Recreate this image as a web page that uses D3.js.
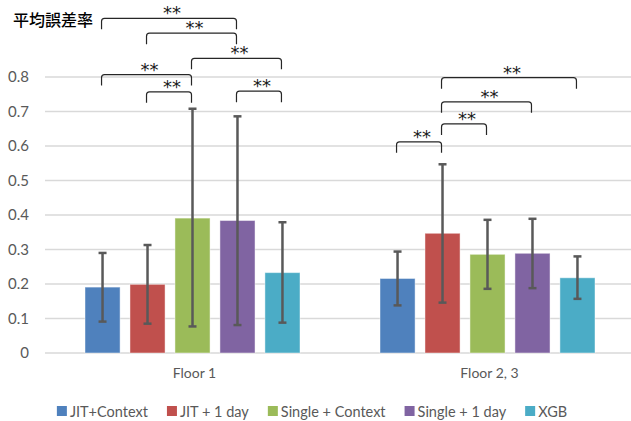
<!DOCTYPE html>
<html>
<head>
<meta charset="utf-8">
<script src="https://cdn.jsdelivr.net/npm/d3@7"></script>
<style>
  html, body { margin: 0; padding: 0; background: #fff; }
  text { font-family: Lato, "Liberation Sans", sans-serif; }
</style>
</head>
<body>
<div class="visualization"></div>
<script>
'use strict';

var categories  = ['Floor 1', 'Floor 2, 3'];
var seriesNames = ['JIT+Context', 'JIT + 1 day', 'Single + Context', 'Single + 1 day', 'XGB'];
var colors      = ['#4F81BD', '#C0504D', '#9BBB59', '#8064A2', '#4BACC6'];

// mean error per category, one entry per series
var meanValues = [
  [0.191, 0.199, 0.391, 0.384, 0.233],
  [0.216, 0.347, 0.286, 0.289, 0.218]
];
var errLow = [
  [0.091, 0.085, 0.077, 0.081, 0.088],
  [0.138, 0.146, 0.186, 0.188, 0.157]
];
var errHigh = [
  [0.290, 0.313, 0.708, 0.686, 0.379],
  [0.294, 0.547, 0.386, 0.389, 0.280]
];
var yTicks = [0, 0.1, 0.2, 0.3, 0.4, 0.5, 0.6, 0.7, 0.8];

// significance brackets: category, series from, series to, height (value units)
var brackets = [
  { cat: 0, from: 0, to: 3, level: 0.970, label: '**' },
  { cat: 0, from: 1, to: 3, level: 0.927, label: '**' },
  { cat: 0, from: 2, to: 4, level: 0.854, label: '**' },
  { cat: 0, from: 0, to: 2, level: 0.807, label: '**' },
  { cat: 0, from: 1, to: 2, level: 0.757, label: '**' },
  { cat: 0, from: 3, to: 4, level: 0.759, label: '**' },
  { cat: 1, from: 1, to: 4, level: 0.798, label: '**' },
  { cat: 1, from: 1, to: 3, level: 0.728, label: '**' },
  { cat: 1, from: 1, to: 2, level: 0.664, label: '**' },
  { cat: 1, from: 0, to: 1, level: 0.612, label: '**' }
];

var width  = 631;
var height = 421;

var svg = d3.select('.visualization')
  .append('svg')
  .attr('width', width)
  .attr('height', height);

var y = d3.scaleLinear().domain([0, 0.8]).range([353, 77]);

var x0 = d3.scaleBand().domain(categories).range([45, 635]).padding(0);
var x1 = d3.scaleBand().domain(d3.range(seriesNames.length))
  .range([40, 255]).paddingInner(0.22).paddingOuter(0);

var barCenter = function(c, s){
  return x0(categories[c]) + x1(s) + x1.bandwidth() / 2;
};

// gridlines
svg.append('g')
  .selectAll('line')
  .data(yTicks)
  .enter().append('line')
  .attr('x1', 45)
  .attr('x2', width)
  .attr('y1', function(d){ return y(d); })
  .attr('y2', function(d){ return y(d); })
  .attr('stroke', '#D9D9D9')
  .attr('stroke-width', 1.5);

// y axis labels
var yAxis = d3.axisLeft(y).tickValues(yTicks).tickSize(0).tickPadding(0)
  .tickFormat(function(d){ return d === 0 ? '0' : d3.format('.1f')(d); });
svg.append('g')
  .attr('transform', 'translate(29,0)')
  .call(yAxis)
  .call(function(g){ g.select('.domain').remove(); })
  .selectAll('text')
  .attr('fill', '#595959')
  .style('font-size', '15px')
  .style('font-family', 'Lato, "Liberation Sans", sans-serif');

// bars
var groups = svg.selectAll('g.cat')
  .data(categories)
  .enter().append('g')
  .attr('class', 'cat')
  .attr('transform', function(d){ return 'translate(' + x0(d) + ',0)'; });

groups.selectAll('rect')
  .data(function(d, i){ return meanValues[i]; })
  .enter().append('rect')
  .attr('x', function(d, i){ return x1(i); })
  .attr('y', function(d){ return y(d); })
  .attr('width', x1.bandwidth())
  .attr('height', function(d){ return y(0) - y(d); })
  .attr('fill', function(d, i){ return colors[i]; })
  .attr('stroke', 'rgba(255,255,255,0.45)')
  .attr('stroke-width', 1);

// error bars
var errData = [];
categories.forEach(function(c, ci){
  seriesNames.forEach(function(s, si){
    errData.push({ cx: barCenter(ci, si), lo: errLow[ci][si], hi: errHigh[ci][si] });
  });
});

var errG = svg.append('g')
  .attr('stroke', '#595959')
  .attr('stroke-width', 2.5);

errG.selectAll('line.v')
  .data(errData)
  .enter().append('line')
  .attr('x1', function(d){ return d.cx; })
  .attr('x2', function(d){ return d.cx; })
  .attr('y1', function(d){ return y(d.lo); })
  .attr('y2', function(d){ return y(d.hi); });

['lo', 'hi'].forEach(function(k){
  errG.selectAll('line.' + k)
    .data(errData)
    .enter().append('line')
    .attr('x1', function(d){ return d.cx - 4; })
    .attr('x2', function(d){ return d.cx + 4; })
    .attr('y1', function(d){ return y(d[k]); })
    .attr('y2', function(d){ return y(d[k]); });
});

// significance brackets
var drop = 11;
var bG = svg.append('g');
bG.selectAll('path')
  .data(brackets)
  .enter().append('path')
  .attr('d', function(d){
    var xa = barCenter(d.cat, d.from) - 1;
    var xb = barCenter(d.cat, d.to) - 1;
    var yt = y(d.level);
    return 'M' + xa + ',' + (yt + drop) +
      'L' + xa + ',' + (yt + 3) +
      'Q' + xa + ',' + yt + ' ' + (xa + 3) + ',' + yt +
      'L' + (xb - 3) + ',' + yt +
      'Q' + xb + ',' + yt + ' ' + xb + ',' + (yt + 3) +
      'L' + xb + ',' + (yt + drop);
  })
  .attr('fill', 'none')
  .attr('stroke', '#262626')
  .attr('stroke-width', 1.2);

bG.selectAll('text')
  .data(brackets)
  .enter().append('text')
  .attr('x', function(d){ return (barCenter(d.cat, d.from) + barCenter(d.cat, d.to)) / 2 + 2; })
  .attr('y', function(d){ return y(d.level) + 1; })
  .attr('text-anchor', 'middle')
  .attr('fill', '#1a1a1a')
  .style('font-family', '"DejaVu Sans", sans-serif')
  .style('font-size', '18px')
  .text(function(d){ return d.label; });

// category labels
svg.append('g')
  .selectAll('text')
  .data(categories)
  .enter().append('text')
  .attr('x', function(d){ return x0(d) + x0.bandwidth() / 2 + 2; })
  .attr('y', 378)
  .attr('text-anchor', 'middle')
  .attr('fill', '#595959')
  .style('font-size', '14px')
  .text(function(d){ return d; });

// title
svg.append('text')
  .attr('x', 13)
  .attr('y', 26)
  .attr('fill', '#000')
  .style('font-family', '"Noto Sans CJK JP", sans-serif')
  .style('font-size', '16px')
  .style('font-weight', 500)
  .text('平均誤差率');

// legend, laid out from measured text widths and centred
var legend = svg.append('g');
var items = legend.selectAll('g')
  .data(seriesNames)
  .enter().append('g');

items.append('rect')
  .attr('width', 10)
  .attr('height', 10)
  .attr('y', 406)
  .attr('fill', function(d, i){ return colors[i]; });

items.append('text')
  .attr('x', 13)
  .attr('y', 417)
  .attr('fill', '#595959')
  .style('font-size', '14.5px')
  .text(function(d){ return d; });

var xCursor = 0;
items.each(function(){
  var g = d3.select(this);
  var w = g.select('text').node().getComputedTextLength();
  g.attr('transform', 'translate(' + xCursor + ',0)');
  xCursor += 13 + w + 19;
});
var legendW = xCursor - 19;
legend.attr('transform', 'translate(' + (312 - legendW / 2) + ',0)');
</script>
</body>
</html>
